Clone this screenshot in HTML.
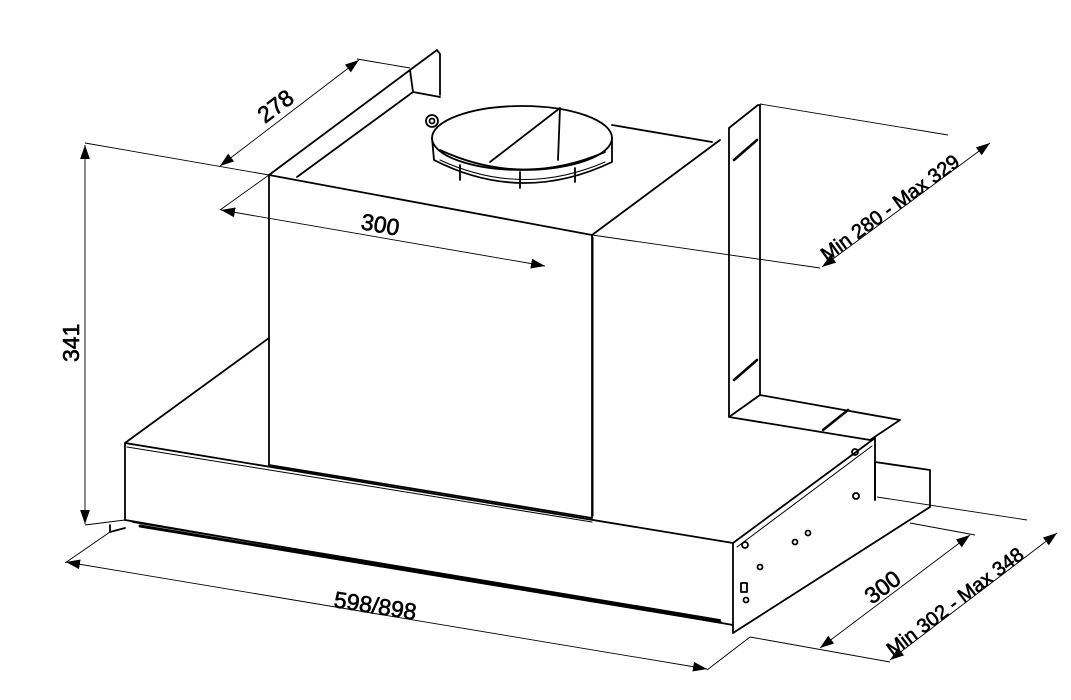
<!DOCTYPE html>
<html><head><meta charset="utf-8"><style>
html,body{margin:0;padding:0;background:#fff;width:1071px;height:700px;overflow:hidden}
svg{display:block}
text{font-family:"Liberation Sans",sans-serif;font-size:23px;fill:#000}
</style></head><body>
<svg width="1071" height="700" viewBox="0 0 1071 700">
<defs>
<marker id="a" viewBox="0 0 10 10" refX="10" refY="5" markerWidth="14" markerHeight="14" markerUnits="userSpaceOnUse" orient="auto-start-reverse"><path d="M0,1.5 L10,5 L0,8.5 z" fill="#000"/></marker>
</defs>
<g fill="none" stroke="#000" stroke-width="1.8" stroke-linejoin="round" stroke-linecap="round">
<!-- chimney -->
<path d="M269,175 L592,235 L592,518 M269,175 L269,465 L592,518"/>
<path d="M269,175 L410,70 L437,50 L440,54 L440,95 M297,177 L413,92 L410,70 M413,92 L440,97 M612,125 L712,142"/>
<path d="M592,235 L720,140"/>
<path d="M593,237 L593,516" stroke-width="1"/>
<!-- right plate -->
<path d="M729,128 L758,105 L760,105 L760,395 M729,128 L729,417 L760,395 M760,395 L900,420 L870,440 L729,417"/>
<path d="M734,160 L757,140 M734,380 L757,360 M823,430 L848,410" stroke-width="2.5"/>
<!-- fan ring -->
<g fill="#fff">
<path d="M432,138 L434,160 Q522,205 612,162 L612,138 Z"/>
<ellipse cx="522" cy="138" rx="90" ry="32"/>
</g>
<path d="M440,150 Q522,188 605,152 M560,108 L490,162 M560,108 L558,160 M460,165 L460,180 M520,172 L520,188 M575,168 L575,182"/>
<path d="M440,160 Q522,198 605,162" stroke-width="1"/>
<circle cx="432" cy="121" r="6"/>
<circle cx="432" cy="121" r="2.5"/>
<!-- base -->
<path d="M125,443 L269,338 M125,443 L125,520 M125,443 L733,543 L733,633 M733,543 L875,438 L875,500 M733,633 L930,507 L930,470 L875,462"/>
<path d="M127,447 L592,522" stroke-width="1"/>
<path d="M737,547 L872,446" stroke-width="1"/>
<path d="M125,520 L733,625 M125,528 L110,532 L110,525 M133,522 L720,620" />
<path d="M140,526 L720,622" stroke-width="3"/>
<path d="M875,462 L875,500" />
<circle cx="745" cy="545" r="3"/><circle cx="855" cy="452" r="3"/><circle cx="856" cy="496" r="3"/>
<circle cx="760" cy="567" r="2.5"/><circle cx="795" cy="542" r="2.5"/><circle cx="808" cy="533" r="2.5"/>
<rect x="741" y="583" width="6" height="9"/><circle cx="746" cy="600" r="2.5"/>
</g>
<!-- dimension lines -->
<g fill="none" stroke="#000" stroke-width="0.9">
<path d="M85,143 L269,175 M85,525 L125,520 M357,59 L410,68 M269,175 L220,210 M592,235 L820,268 M760,104 L948,135"/>
<path d="M110,532 L65,563 M750,637 L707,670 M750,637 L890,662 M910,523 L975,535 M877,497 L1027,520"/>
<line x1="85" y1="145" x2="85" y2="524" marker-start="url(#a)" marker-end="url(#a)"/>
<line x1="220" y1="166" x2="359" y2="60" marker-start="url(#a)" marker-end="url(#a)"/>
<line x1="221" y1="210" x2="545" y2="266" marker-start="url(#a)" marker-end="url(#a)"/>
<line x1="822" y1="267" x2="990" y2="143" marker-start="url(#a)" marker-end="url(#a)"/>
<line x1="66" y1="562" x2="707" y2="669" marker-start="url(#a)" marker-end="url(#a)"/>
<line x1="820" y1="648" x2="970" y2="535" marker-start="url(#a)" marker-end="url(#a)"/>
<line x1="890" y1="660" x2="1057" y2="533" marker-start="url(#a)" marker-end="url(#a)"/>
</g>
<g stroke="#000" stroke-width="0.6">
<text transform="translate(79,362) rotate(-90)">341</text>
<text transform="translate(265,124) rotate(-37)">278</text>
<text transform="translate(360,229) rotate(10)">300</text>
<text transform="translate(827,262) rotate(-36)" style="font-size:20px">Min  280  -  Max  329</text>
<text transform="translate(333,607) rotate(9)">598/898</text>
<text transform="translate(872,605) rotate(-37)">300</text>
<text transform="translate(893,657) rotate(-37)" style="font-size:20px">Min  302  -  Max  348</text>
</g>
</svg>
</body></html>
